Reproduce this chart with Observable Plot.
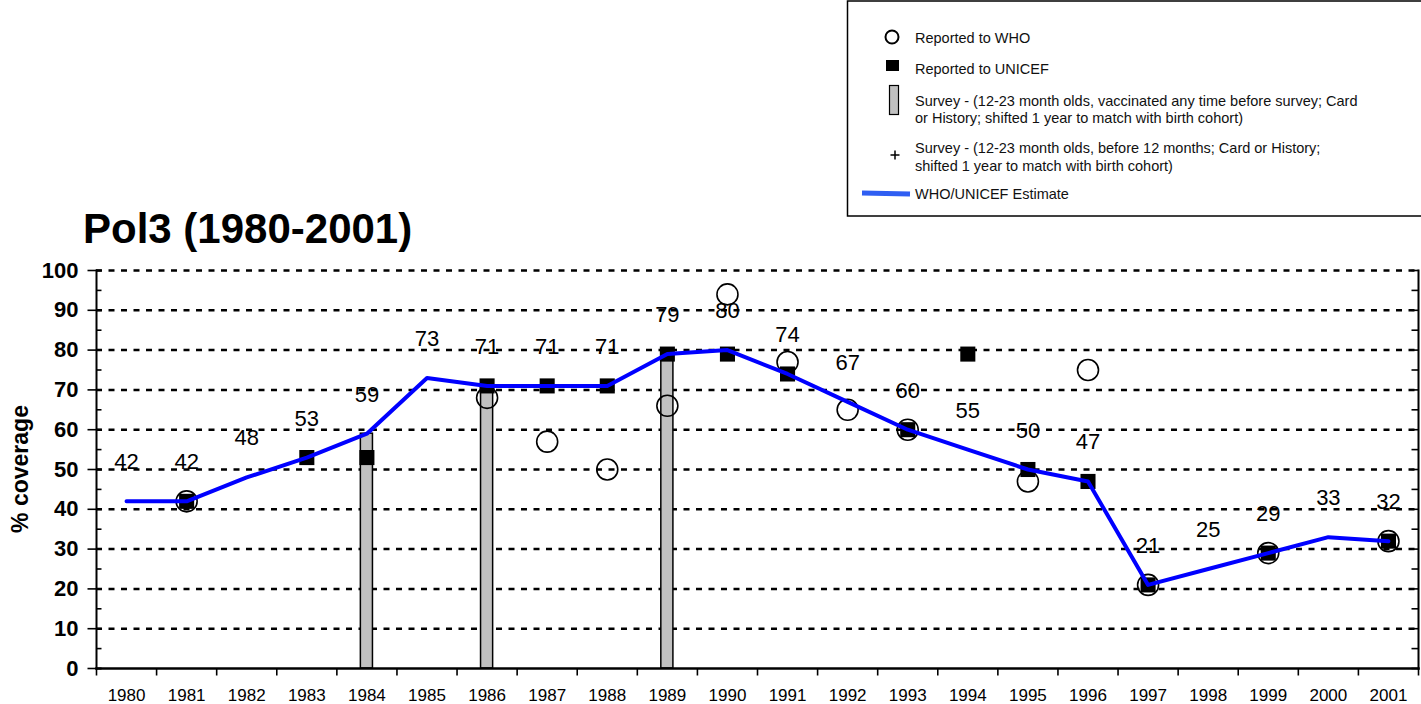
<!DOCTYPE html>
<html>
<head>
<meta charset="utf-8">
<script src="https://cdn.jsdelivr.net/npm/d3@7"></script>
<script src="https://cdn.jsdelivr.net/npm/@observablehq/plot@0.6"></script>
<style>
  html, body { margin: 0; padding: 0; background: white; }
  #wrap { position: relative; width: 1421px; height: 704px; overflow: hidden; font-family: "Liberation Sans", Arial, sans-serif; }
  #wrap > svg { position: absolute; left: 0; top: 0; }
</style>
</head>
<body>
<div id="wrap"></div>
<script>
// ---- data ----
const years = [1980,1981,1982,1983,1984,1985,1986,1987,1988,1989,1990,1991,1992,1993,1994,1995,1996,1997,1998,1999,2000,2001];
const estimate = [42,42,48,53,59,73,71,71,71,79,80,74,67,60,55,50,47,21,25,29,33,32];
const whoYears = [1981,1986,1987,1988,1989,1990,1991,1992,1993,1995,1996,1997,1999,2001];
const whoValues = [42,68,57,50,66,94,77,65,60,47,75,21,29,32];
const unicefYears = [1981,1983,1984,1986,1987,1988,1989,1990,1991,1993,1994,1995,1996,1997,1999,2001];
const unicefValues = [42,53,53,71,71,71,79,79,74,60,79,50,47,21,29,32];
const surveyYears = [1984,1986,1989];
const surveyValues = [59,71,79];
const yMajor = [0,10,20,30,40,50,60,70,80,90,100];
const yMinor = [0,5,10,15,20,25,30,35,40,45,50,55,60,65,70,75,80,85,90,95,100];
const gridValues = [10,20,30,40,50,60,70,80,90,100];

const estData = years.map((y, i) => ({year: y, value: estimate[i]}));
const whoData = whoYears.map((y, i) => ({year: y, value: whoValues[i]}));
const unicefData = unicefYears.map((y, i) => ({year: y, value: unicefValues[i]}));
const surveyData = surveyYears.map((y, i) => ({year: y, value: surveyValues[i]}));
const boundaries = years.map(y => y - 0.5).concat([years[years.length - 1] + 0.5]);

// tick symbols
const sym = (x0, y0, x1, y1) => ({draw(ctx) { ctx.moveTo(x0, y0); ctx.lineTo(x1, y1); }});
const leftMajorTick = sym(-9, 0, 5, 0);
const leftMinorTick = sym(0, 0, 5, 0);
const rightTick = sym(-7, 0, 0, 0);
const bottomTick = sym(0, 0, 0, 7);

const FONT = '"Liberation Sans", Arial, sans-serif';

const chart = Plot.plot({
  width: 1421,
  height: 704,
  marginLeft: 96,
  marginRight: 3,
  marginTop: 270,
  marginBottom: 36,
  style: {fontFamily: FONT, fontSize: "17px", background: "white", overflow: "visible"},
  x: {type: "linear", domain: [years[0] - 0.5, years[years.length - 1] + 0.5], axis: null},
  y: {domain: [0, 100], axis: null},
  marks: [
    Plot.ruleY(gridValues, {stroke: "black", strokeWidth: 2.5, strokeDasharray: "6,6.5"}),
    Plot.rect(surveyData, {x1: d => d.year - 0.5, x2: d => d.year + 0.5, y1: 0, y2: "value",
      insetLeft: 24, insetRight: 24, fill: "#c0c0c0", stroke: "black", strokeWidth: 1.5}),
    Plot.dot(unicefData, {x: "year", y: "value", symbol: "square", r: 8.5, fill: "black", stroke: "none"}),
    Plot.dot(whoData, {x: "year", y: "value", symbol: "circle", r: 10.5, fill: "none", stroke: "black", strokeWidth: 1.6}),
    Plot.line(estData, {x: "year", y: "value", stroke: "#0000ff", strokeWidth: 4}),
    Plot.text(estData, {x: "year", y: "value", text: d => String(d.value), dy: -32, lineAnchor: "bottom",
      fontSize: 22, fill: "black"}),
    // axes
    Plot.frame({anchor: "left", stroke: "black", strokeWidth: 2}),
    Plot.frame({anchor: "right", stroke: "black", strokeWidth: 2}),
    Plot.frame({anchor: "bottom", stroke: "black", strokeWidth: 2.5}),
    Plot.dot(yMajor, {y: d => d, frameAnchor: "left", symbol: leftMajorTick, fill: "none", stroke: "black", strokeWidth: 1.6}),
    Plot.dot(yMinor, {y: d => d, frameAnchor: "left", symbol: leftMinorTick, fill: "none", stroke: "black", strokeWidth: 1.6}),
    Plot.dot(yMinor, {y: d => d, frameAnchor: "right", symbol: rightTick, fill: "none", stroke: "black", strokeWidth: 1.6}),
    Plot.dot(boundaries, {x: d => d, frameAnchor: "bottom", symbol: bottomTick, fill: "none", stroke: "black", strokeWidth: 1.6}),
    Plot.text(yMajor, {y: d => d, frameAnchor: "left", text: d => String(d), textAnchor: "end", dx: -18,
      lineAnchor: "middle", fontSize: 22, fontWeight: "bold", fill: "black"}),
    Plot.text(years, {x: d => d, frameAnchor: "bottom", text: d => String(d), dy: 32, lineAnchor: "bottom",
      fontSize: 17, fill: "black"})
  ]
});

const wrap = document.getElementById("wrap");
wrap.appendChild(chart);

// ---- overlay: title, y label, legend ----
const ov = d3.select(wrap).append("svg")
  .attr("width", 1421).attr("height", 704)
  .style("pointer-events", "none")
  .attr("font-family", FONT);

ov.append("text").attr("x", 83).attr("y", 243)
  .attr("font-size", 42).attr("font-weight", "bold").attr("fill", "black")
  .text("Pol3 (1980-2001)");

ov.append("text").attr("transform", "translate(28,469) rotate(-90)")
  .attr("text-anchor", "middle").attr("font-size", 23).attr("font-weight", "bold").attr("fill", "black")
  .text("% coverage");

const lg = ov.append("g");
lg.append("rect").attr("x", 847.5).attr("y", 1).attr("width", 620).attr("height", 215)
  .attr("fill", "white").attr("stroke", "black").attr("stroke-width", 1.5);
lg.append("circle").attr("cx", 892).attr("cy", 37).attr("r", 6.5)
  .attr("fill", "none").attr("stroke", "black").attr("stroke-width", 2);
lg.append("rect").attr("x", 886).attr("y", 60).attr("width", 13).attr("height", 11).attr("fill", "black");
lg.append("rect").attr("x", 889.5).attr("y", 85.5).attr("width", 9).attr("height", 29)
  .attr("fill", "#c0c0c0").attr("stroke", "black").attr("stroke-width", 1.2);
lg.append("path").attr("d", "M890.5,155H899.5M895,150.5V159.5").attr("stroke", "black").attr("stroke-width", 1.5);
lg.append("line").attr("x1", 862).attr("x2", 910).attr("y1", 193).attr("y2", 194)
  .attr("stroke", "#2f5ef2").attr("stroke-width", 5);

const legendLines = [
  ["Reported to WHO", 43],
  ["Reported to UNICEF", 74],
  ["Survey - (12-23 month olds, vaccinated any time before survey; Card", 106],
  ["or History; shifted 1 year to match with birth cohort)", 123],
  ["Survey - (12-23 month olds, before 12 months; Card or History;", 153],
  ["shifted 1 year to match with birth cohort)", 171],
  ["WHO/UNICEF Estimate", 199]
];
lg.selectAll("text.lt").data(legendLines).join("text")
  .attr("class", "lt").attr("x", 915).attr("y", d => d[1])
  .attr("font-size", 14.5).attr("fill", "#111").text(d => d[0]);
</script>
</body>
</html>
